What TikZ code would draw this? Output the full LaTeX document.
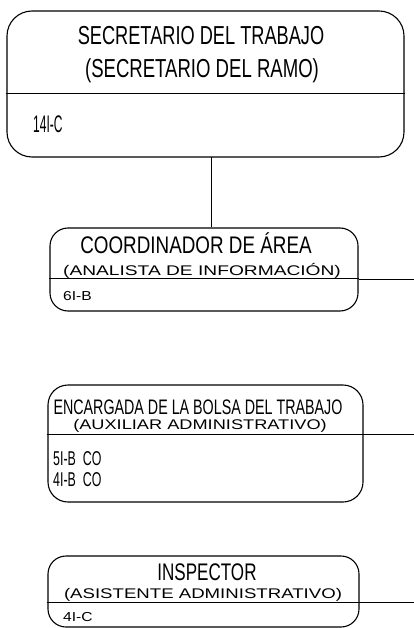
\documentclass[tikz,border=0pt]{standalone}
\usepackage{fontspec}
\setmainfont{Liberation Sans}
\usepackage{graphicx}
\begin{document}
\begin{tikzpicture}[x=1pt,y=-1pt,
  box/.style={draw,line width=1.1pt,inner sep=0pt},
  rule/.style={line width=0.9pt},
  conn/.style={line width=1pt},
  ttl/.style={inner sep=0pt,anchor=base,font=\fontsize{26}{26}\selectfont},
  sub/.style={inner sep=0pt,anchor=base,font=\fontsize{14}{14}\selectfont},
  code/.style={inner sep=0pt,anchor=base west}]
\useasboundingbox (0,0) rectangle (414,628);
% boxes
\node[box,rounded corners=25pt,minimum width=397pt,minimum height=146pt] (b1) at (205.5,84) {};
\node[box,rounded corners=18pt,minimum width=308pt,minimum height=83pt] (b2) at (204,269.5) {};
\node[box,rounded corners=20pt,minimum width=315pt,minimum height=117pt] (b3) at (205.5,443.5) {};
\node[box,rounded corners=18pt,minimum width=311pt,minimum height=71pt] (b4) at (203.5,591.5) {};
% dividers
\coordinate (d1) at (0,93);
\coordinate (d2) at (0,278);
\coordinate (d3) at (0,434);
\coordinate (d4) at (0,602);
\draw[rule] (b1.west |- d1) -- (b1.east |- d1);
\draw[rule] (b2.west |- d2) -- (b2.east |- d2);
\draw[rule] (b3.west |- d3) -- (b3.east |- d3);
\draw[rule] (b4.west |- d4) -- (b4.east |- d4);
% connectors
\coordinate (c1) at (211,157);
\draw[conn] (c1) -- (c1 |- b2.north);
\coordinate (e2) at (414,279);
\coordinate (e3) at (414,434);
\coordinate (e4) at (414,602);
\draw[conn] (b2.east |- e2) -- (e2);
\draw[conn] (b3.east |- e3) -- (e3);
\draw[conn] (b4.east |- e4) -- (e4);
% texts box 1
\node[ttl] (t1a) at (201,45) {\scalebox{0.70}[1]{SECRETARIO DEL TRABAJO}};
\node[ttl] (t1b) at (202,78) {\scalebox{0.714}[1]{(SECRETARIO DEL RAMO)}};
\node[code,font=\fontsize{24}{24}\selectfont] (k1) at (33,133) {\scalebox{0.5}[1]{14I-C}};
% texts box 2
\node[ttl,font=\fontsize{24}{24}\selectfont] (t2a) at (196,253) {\scalebox{0.785}[1]{COORDINADOR DE ÁREA}};
\node[sub] (t2b) at (202,275) {\scalebox{1.37}[1]{(ANALISTA DE INFORMACIÓN)}};
\node[code,font=\fontsize{13}{13}\selectfont] (k2) at (63,300) {\scalebox{1.2}[1]{6I-B}};
% texts box 3
\node[ttl,font=\fontsize{21}{21}\selectfont] (t3a) at (198,414) {\scalebox{0.68}[1]{ENCARGADA DE LA BOLSA DEL TRABAJO}};
\node[sub] (t3b) at (200,429) {\scalebox{1.3}[1]{(AUXILIAR ADMINISTRATIVO)}};
\node[code,font=\fontsize{20}{20}\selectfont] (k3a) at (53,465) {\scalebox{0.62}[1]{5I-B\ \ CO}};
\node[code,font=\fontsize{20}{20}\selectfont] (k3b) at (53,486) {\scalebox{0.62}[1]{4I-B\ \ CO}};
% texts box 4
\node[ttl,font=\fontsize{24}{24}\selectfont] (t4a) at (207,580) {\scalebox{0.71}[1]{INSPECTOR}};
\node[sub] (t4b) at (203,598) {\scalebox{1.33}[1]{(ASISTENTE ADMINISTRATIVO)}};
\node[code,font=\fontsize{13}{13}\selectfont] (k4) at (63,621) {\scalebox{1.2}[1]{4I-C}};
\end{tikzpicture}
\end{document}
